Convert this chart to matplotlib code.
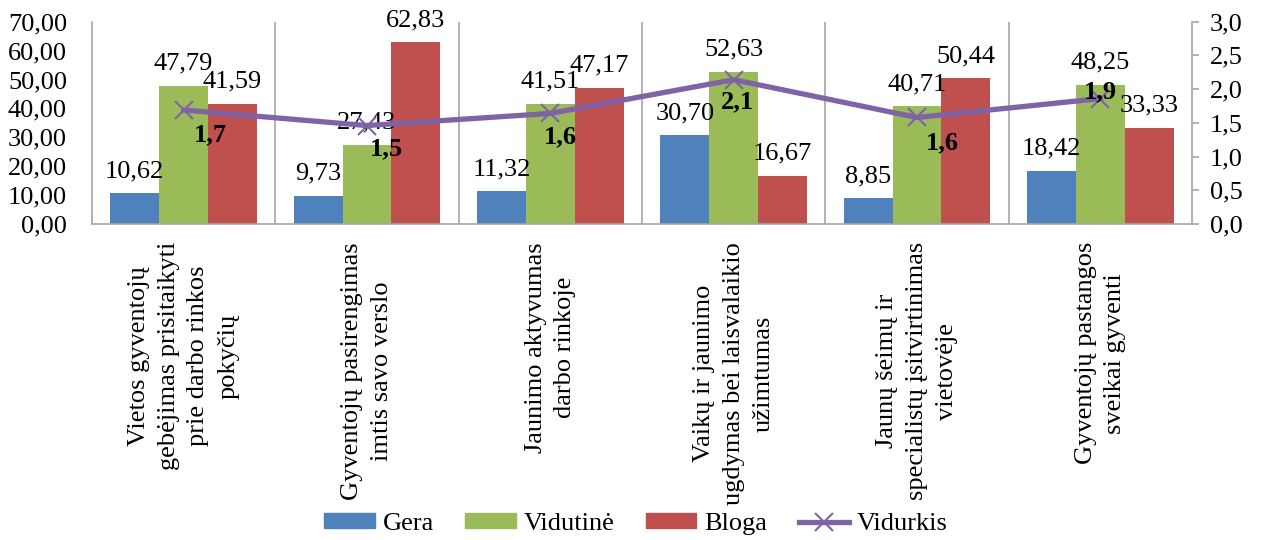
import matplotlib
matplotlib.use("Agg")
import matplotlib.pyplot as plt
from matplotlib.lines import Line2D
from matplotlib.patches import Patch

categories = [
    "Vietos gyventojų\ngebėjimas prisitaikyti\nprie darbo rinkos\npokyčių",
    "Gyventojų pasirengimas\nimtis savo verslo",
    "Jaunimo aktyvumas\ndarbo rinkoje",
    "Vaikų ir jaunimo\nugdymas bei laisvalaikio\nužimtumas",
    "Jaunų šeimų ir\nspecialistų įsitvirtinimas\nvietovėje",
    "Gyventojų pastangos\nsveikai gyventi",
]
gera = [10.62, 9.73, 11.32, 30.70, 8.85, 18.42]
vidutine = [47.79, 27.43, 41.51, 52.63, 40.71, 48.25]
bloga = [41.59, 62.83, 47.17, 16.67, 50.44, 33.33]
vidurkis = [1.69, 1.46, 1.64, 2.14, 1.58, 1.86]
series_names = ["Gera", "Vidutinė", "Bloga", "Vidurkis"]
left_ticks = [0, 10, 20, 30, 40, 50, 60, 70]
right_ticks = [0, 0.5, 1.0, 1.5, 2.0, 2.5, 3.0]

# label offsets for the average line labels (in points)
line_label_offsets = [(19, -18), (14, -17), (7, -17), (3, -16), (18, -18), (0, 5)]

plt.rcParams['font.family'] = ['Liberation Serif', 'DejaVu Serif']
FS = 19

colors = ["#4F81BD", "#9BBB59", "#C0504D"]
line_color = "#7F63A5"
grid_color = "#A6A6A6"

fig = plt.figure(figsize=(12.61, 5.40), dpi=100)
ax = fig.add_axes([92/1261, 1-224/540, 1100/1261, (224-21.7)/540])
ax2 = ax.twinx()

n = len(categories)
x = list(range(n))
w = 1/3.75
for i, (vals, c) in enumerate(zip([gera, vidutine, bloga], colors)):
    pos = [xi + (i-1)*w for xi in x]
    ax.bar(pos, vals, width=w, color=c, zorder=2)
    for p, v in zip(pos, vals):
        ax.annotate(f"{v:.2f}".replace('.', ','), (p, v), xytext=(0, 8),
                    textcoords='offset points', ha='center', va='bottom',
                    fontsize=FS, annotation_clip=False, zorder=5)

ax.set_xlim(-0.5, n-0.5)
ax.set_ylim(0, 70)
ax.set_yticks(left_ticks)
ax.set_yticklabels([f"{t:.2f}".replace('.', ',') for t in left_ticks], fontsize=FS)
ax.tick_params(axis='y', length=0, pad=18)
ax.set_xticks(x)
ax.set_xticklabels(categories, rotation=90, fontsize=FS, ha='center', va='top',
                   multialignment='center', linespacing=1.45)
ax.tick_params(axis='x', length=0, pad=13)
for b in [k + 0.5 for k in range(n-1)]:
    ax.axvline(b, color=grid_color, lw=1.2, zorder=1)

for s in ['top', 'right']:
    ax.spines[s].set_visible(False)
ax.spines['left'].set_color(grid_color)
ax.spines['bottom'].set_color(grid_color)
ax.spines['left'].set_linewidth(1.2)
ax.spines['bottom'].set_linewidth(1.2)

ax2.plot(x, vidurkis, color=line_color, lw=3.8, marker='x', markersize=13,
         markeredgewidth=1.5, zorder=3)
for xi, v, off in zip(x, vidurkis, line_label_offsets):
    ax2.annotate(f"{v:.1f}".replace('.', ','), (xi, v), xytext=off,
                 textcoords='offset points', ha='center', va='center',
                 fontsize=FS, fontweight='bold', zorder=6)
ax2.set_ylim(0, 3)
ax2.set_yticks(right_ticks)
ax2.set_yticklabels([f"{t:.1f}".replace('.', ',') for t in right_ticks], fontsize=FS)
ax2.tick_params(axis='y', length=5, width=1.2, color=grid_color, pad=8, direction='out')
for s in ['top', 'left', 'bottom']:
    ax2.spines[s].set_visible(False)
ax2.spines['right'].set_color(grid_color)
ax2.spines['right'].set_linewidth(1.2)

handles = [Patch(color=colors[0]), Patch(color=colors[1]), Patch(color=colors[2]),
           Line2D([0], [0], color=line_color, lw=3.8, marker='x', markersize=13,
                  markeredgewidth=1.5)]
fig.legend(handles, series_names, loc='center', bbox_to_anchor=(636/1261, 1-524/540),
           ncol=4, frameon=False, fontsize=FS, handlelength=1.9, handleheight=0.5,
           columnspacing=1.2, handletextpad=0.3)

fig.savefig("out.png", dpi=100)
